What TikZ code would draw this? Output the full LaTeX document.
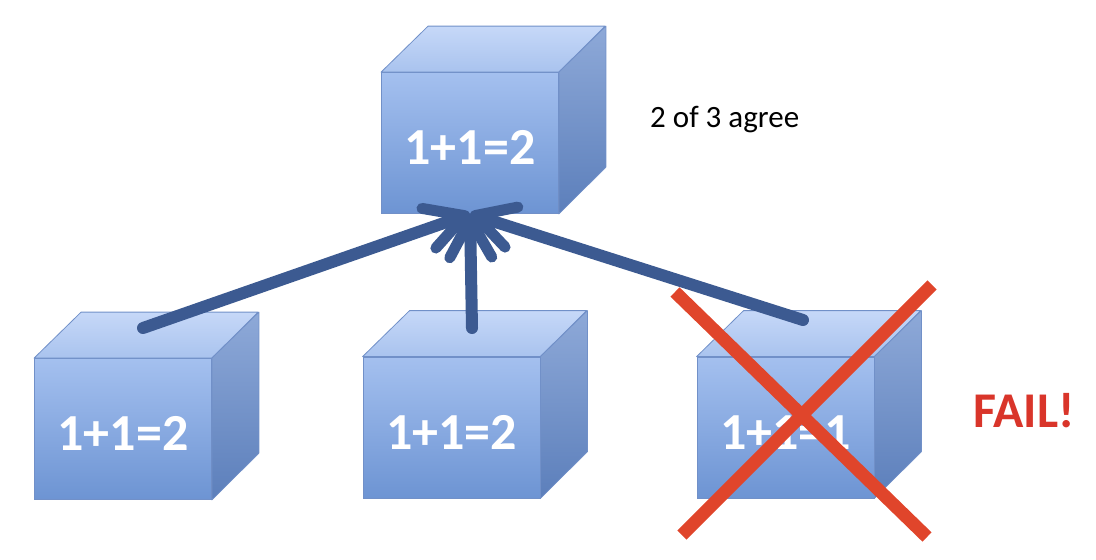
\documentclass[tikz,border=0pt]{standalone}
\usepackage{fontspec}
\setmainfont{Carlito}
\usetikzlibrary{arrows.meta,calc}
\definecolor{frontTop}{HTML}{A4C0EF}
\definecolor{frontBot}{HTML}{6D94D3}
\definecolor{topTop}{HTML}{C6D8F8}
\definecolor{topBot}{HTML}{A9C3EE}
\definecolor{sideTop}{HTML}{8EA9D8}
\definecolor{sideBot}{HTML}{5C7FBB}
\definecolor{edgeblue}{HTML}{7190C8}
\definecolor{arrowblue}{HTML}{3C5A91}
\definecolor{failred}{HTML}{E0452B}
\definecolor{failtext}{HTML}{D9352A}
\tikzset{
  face/.style={rectangle, minimum width=177pt, minimum height=141pt, inner sep=0pt,
    draw=edgeblue, line width=0.8pt, top color=frontTop, bottom color=frontBot,
    text=white, font=\bfseries\fontsize{52}{52}\selectfont, text height=43pt, text depth=0pt},
  topface/.style={draw=edgeblue, line width=0.8pt, top color=topTop, bottom color=topBot, line join=round},
  sideface/.style={draw=edgeblue, line width=0.8pt, top color=sideTop, bottom color=sideBot, line join=round},
  link/.style={line width=12pt, draw=arrowblue, line cap=round,
    -{Straight Barb[length=38pt,width=42pt,round,line width=11pt]}},
  cross/.style={line width=13pt, draw=failred},
}
\newcommand\cubeat[3]{%
  \node[face] (#1) at (#2) {#3};
  \path[topface] (#1.north west) -- ++(47,-46) -- ++(177,0) -- (#1.north east) -- cycle;
  \path[sideface] (#1.north east) -- ++(47,-46) -- ++(0,141) -- (#1.south east) -- cycle;
}
\begin{document}
\begin{tikzpicture}[x=1pt,y=-1pt]
\useasboundingbox (0,0) rectangle (1096,560);
\cubeat{top}{470,143}{1+1=2}
\cubeat{c1}{123,429}{1+1=2}
\cubeat{c2}{451.5,427.5}{1+1=2}
\cubeat{c3}{785.5,427.5}{1+1=1}
\node[anchor=base west, inner sep=0pt, font=\fontsize{31}{31}\selectfont] (agree) at (650,127) {2 of 3 agree};
\node[anchor=base, inner sep=0pt, text=failtext, font=\bfseries\fontsize{50}{50}\selectfont] (fail) at (1024,427) {FAIL!};
\coordinate (t1) at (143,328);
\coordinate (t2) at (472,328);
\coordinate (t3) at (803,320);
\draw[link] (t1) -- (top.south);
\draw[link] (t2) -- (top.south);
\draw[link] (t3) -- (top.south);
\draw[cross] (675,292) -- (927,537);
\draw[cross] (932,285) -- (682,535);
\end{tikzpicture}
\end{document}
